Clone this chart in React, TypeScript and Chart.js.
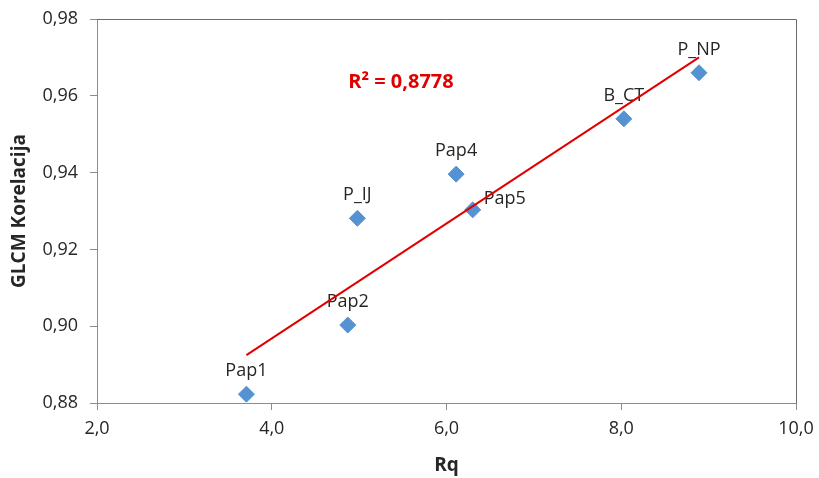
import React, { useEffect, useRef } from "react";
import { Chart, registerables } from "chart.js";

Chart.register(...registerables);

const pointNames = ["Pap1", "Pap2", "P_IJ", "Pap4", "Pap5", "B_CT", "P_NP"];
const rqValues = [3.71, 4.87, 4.98, 6.11, 6.3, 8.03, 8.89];
const correlationValues = [0.8823, 0.9003, 0.9281, 0.9396, 0.9303, 0.954, 0.966];
const labelSides = ["top", "top", "top", "top", "right", "top", "top"];
const xAxisRange = [2, 10];
const yAxisRange = [0.88, 0.98];
const rSquaredText = "R² = 0,8778";
const xTitle = "Rq";
const yTitle = "GLCM Korelacija";

function regressionLine(xs: number[], ys: number[]) {
  const n = xs.length;
  const mx = xs.reduce((a, b) => a + b, 0) / n;
  const my = ys.reduce((a, b) => a + b, 0) / n;
  let sxy = 0;
  let sxx = 0;
  for (let i = 0; i < n; i++) {
    sxy += (xs[i] - mx) * (ys[i] - my);
    sxx += (xs[i] - mx) * (xs[i] - mx);
  }
  const slope = sxy / sxx;
  const intercept = my - slope * mx;
  const x0 = Math.min(...xs);
  const x1 = Math.max(...xs);
  return [
    { x: x0, y: intercept + slope * x0 },
    { x: x1, y: intercept + slope * x1 },
  ];
}

const FONT = "'Open Sans', 'DejaVu Sans', sans-serif";
const TEXT = "#262626";
const AXIS = "#8c8c8c";
const FRAME = "#6b6b6b";

export default function App() {
  const ref = useRef<HTMLCanvasElement | null>(null);

  useEffect(() => {
    if (!ref.current) return;
    const points = rqValues.map((x, i) => ({ x, y: correlationValues[i] }));

    const decorPlugin = {
      id: "decor",
      beforeDatasetsDraw(chart: any) {
        const ctx = chart.ctx;
        const meta = chart.getDatasetMeta(1);
        ctx.save();
        ctx.font = `18px ${FONT}`;
        ctx.fillStyle = TEXT;
        ctx.textBaseline = "middle";
        meta.data.forEach((el: any, i: number) => {
          if (labelSides[i] === "right") {
            ctx.textAlign = "left";
            ctx.fillText(pointNames[i], el.x + 11, el.y - 11);
          } else {
            ctx.textAlign = "center";
            ctx.fillText(pointNames[i], el.x, el.y - 23);
          }
        });
        ctx.restore();
      },
      afterDraw(chart: any) {
        const ctx = chart.ctx;
        const a = chart.chartArea;
        ctx.save();
        ctx.strokeStyle = FRAME;
        ctx.lineWidth = 1;
        ctx.beginPath();
        ctx.moveTo(a.left, Math.round(a.top) + 0.5);
        ctx.lineTo(Math.round(a.right) + 0.5, Math.round(a.top) + 0.5);
        ctx.lineTo(Math.round(a.right) + 0.5, a.bottom);
        ctx.stroke();

        ctx.fillStyle = TEXT;
        ctx.textAlign = "center";
        ctx.textBaseline = "middle";
        ctx.font = `bold 19px ${FONT}`;
        ctx.fillText(xTitle, (a.left + a.right) / 2, 466);
        ctx.save();
        ctx.translate(20, (a.top + a.bottom) / 2);
        ctx.rotate(-Math.PI / 2);
        ctx.fillText(yTitle, 0, 0);
        ctx.restore();

        ctx.fillStyle = "#E00000";
        ctx.font = `bold 20px ${FONT}`;
        ctx.fillText(rSquaredText, 401, 82);
        ctx.restore();
      },
    };

    const chart = new Chart(ref.current, {
      type: "scatter",
      data: {
        datasets: [
          {
            type: "line",
            label: "trend",
            data: regressionLine(rqValues, correlationValues),
            borderColor: "#E00000",
            borderWidth: 2,
            pointRadius: 0,
            fill: false,
            order: 0,
          } as any,
          {
            label: "points",
            data: points,
            pointStyle: "rectRot",
            pointRadius: 8,
            backgroundColor: "#5592D2",
            borderColor: "#5592D2",
            borderWidth: 1,
            order: 1,
          },
        ],
      },
      options: {
        responsive: false,
        animation: false,
        layout: { padding: { top: 19, right: 23, left: 0, bottom: 0 } },
        plugins: {
          legend: { display: false },
          tooltip: { enabled: false },
        },
        scales: {
          x: {
            type: "linear",
            min: xAxisRange[0],
            max: xAxisRange[1],
            afterFit: (s: any) => {
              s.height = 75;
              s.paddingLeft = 0;
              s.paddingRight = 0;
            },
            ticks: {
              stepSize: 2,
              color: TEXT,
              font: { family: FONT, size: 18 },
              padding: 8,
              callback: (v: any) => Number(v).toFixed(1).replace(".", ","),
            },
            grid: {
              drawOnChartArea: false,
              drawTicks: true,
              tickLength: 7,
              color: AXIS,
            },
            border: { color: AXIS },
          },
          y: {
            type: "linear",
            min: yAxisRange[0],
            max: yAxisRange[1],
            afterFit: (s: any) => {
              s.width = 97;
              s.paddingTop = 0;
              s.paddingBottom = 0;
            },
            ticks: {
              stepSize: 0.02,
              color: TEXT,
              font: { family: FONT, size: 18 },
              padding: 12,
              callback: (v: any) => Number(v).toFixed(2).replace(".", ","),
            },
            grid: {
              drawOnChartArea: false,
              drawTicks: true,
              tickLength: 7,
              color: AXIS,
            },
            border: { color: AXIS },
          },
        },
      },
      plugins: [decorPlugin],
    });
    return () => chart.destroy();
  }, []);

  return (
    <div style={{ position: "absolute", left: 0, top: 0, width: 819, height: 478, background: "#fff" }}>
      <canvas ref={ref} width={819} height={478} style={{ display: "block" }} />
    </div>
  );
}
